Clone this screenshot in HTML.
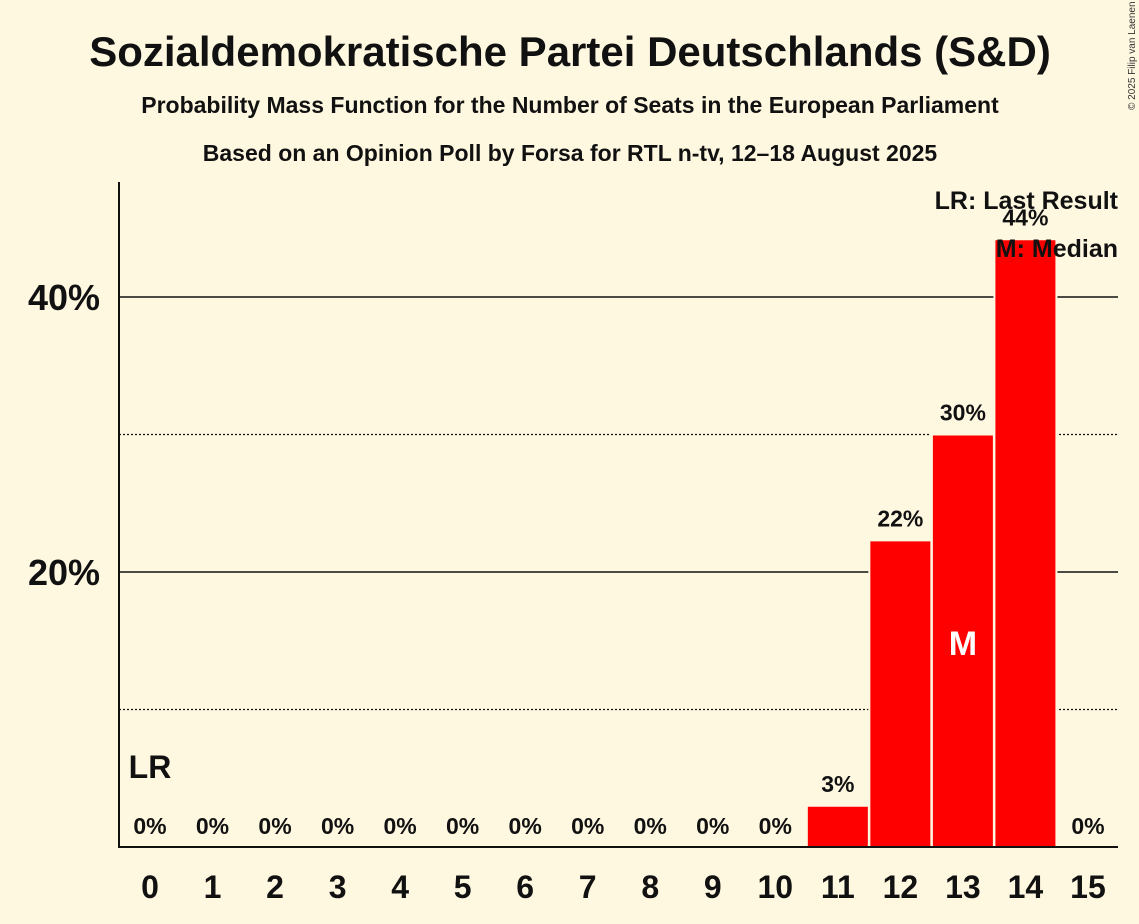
<!DOCTYPE html>
<html><head><meta charset="utf-8"><style>
body{margin:0;background:#fff8e1;}
svg{display:block;font-family:"Liberation Sans",sans-serif;}
</style></head><body>
<svg width="1139" height="924" viewBox="0 0 1139 924">
<rect width="1139" height="924" fill="#fff8e1"/>
<text x="570" y="66" text-anchor="middle" font-size="42" font-weight="bold" fill="#111">Sozialdemokratische Partei Deutschlands (S&amp;D)</text>
<text x="570" y="113" text-anchor="middle" font-size="23" font-weight="bold" fill="#111">Probability Mass Function for the Number of Seats in the European Parliament</text>
<text x="570" y="161" text-anchor="middle" font-size="23" font-weight="bold" fill="#111">Based on an Opinion Poll by Forsa for RTL n-tv, 12–18 August 2025</text>
<text transform="translate(1135,110) rotate(-90)" font-size="10" fill="#333">© 2025 Filip van Laenen</text>
<g id="grid"></g>
<g id="bars"></g>
<line x1="119" y1="182" x2="119" y2="848" stroke="#111" stroke-width="2"/>
<line x1="118" y1="847" x2="1118" y2="847" stroke="#111" stroke-width="2"/>
<g id="labels"></g>
<text x="1118" y="209" text-anchor="end" font-size="25" font-weight="bold" fill="#111">LR: Last Result</text>
<text x="1118" y="257" text-anchor="end" font-size="25" font-weight="bold" fill="#111">M: Median</text>
</svg>
<script>
const categories=[0,1,2,3,4,5,6,7,8,9,10,11,12,13,14,15];
const values=[0,0,0,0,0,0,0,0,0,0,0,3,22.3,30,44.2,0];
const valueLabels=["0%","0%","0%","0%","0%","0%","0%","0%","0%","0%","0%","3%","22%","30%","44%","0%"];
const majorTicks=[20,40];
const majorTickLabels=["20%","40%"];
const minorTicks=[10,30];
const medianIndex=13;
const lastResultIndex=0;
const NS="http://www.w3.org/2000/svg";
const y=v=>847-v*13.75;
const x=i=>150+i*62.53;
function mk(tag,attrs,parent,txt){const e=document.createElementNS(NS,tag);for(const k in attrs)e.setAttribute(k,attrs[k]);if(txt!==undefined)e.textContent=txt;document.getElementById(parent).appendChild(e);return e;}
minorTicks.forEach(t=>{const l=mk('line',{x1:119,x2:1118,y1:y(t),y2:y(t),stroke:'#111','stroke-width':1.2,'stroke-dasharray':'2,2'},'grid');

});
majorTicks.forEach((t,i)=>{const l=mk('line',{x1:119,x2:1118,y1:y(t),y2:y(t),stroke:'#111','stroke-width':1.5},'grid');


const tx=mk('text',{x:100,y:y(t)+13,'text-anchor':'end','font-size':36,'font-weight':'bold',fill:'#111'},'labels',majorTickLabels[i]);

});
categories.forEach((c,i)=>{
if(values[i]>0){const r=mk('rect',{x:x(i)-31,y:y(values[i]),width:62,height:847-y(values[i]),fill:'#ff0000',stroke:'#fff8e1','stroke-width':2},'bars');

}
const ly=values[i]>0?y(values[i])-14:834;
const vl=mk('text',{x:x(i),y:ly,'text-anchor':'middle','font-size':23,'font-weight':'bold',fill:'#111'},'labels',valueLabels[i]);


const xl=mk('text',{x:x(i),y:898,'text-anchor':'middle','font-size':32,'font-weight':'bold',fill:'#111'},'labels',String(c));


});
const m=mk('text',{x:x(medianIndex),y:655,'text-anchor':'middle','font-size':34,'font-weight':'bold',fill:'#fff'},'labels','M');


const lr=mk('text',{x:x(lastResultIndex),y:778,'text-anchor':'middle','font-size':32,'font-weight':'bold',fill:'#111'},'labels','LR');


</script>
</body></html>
